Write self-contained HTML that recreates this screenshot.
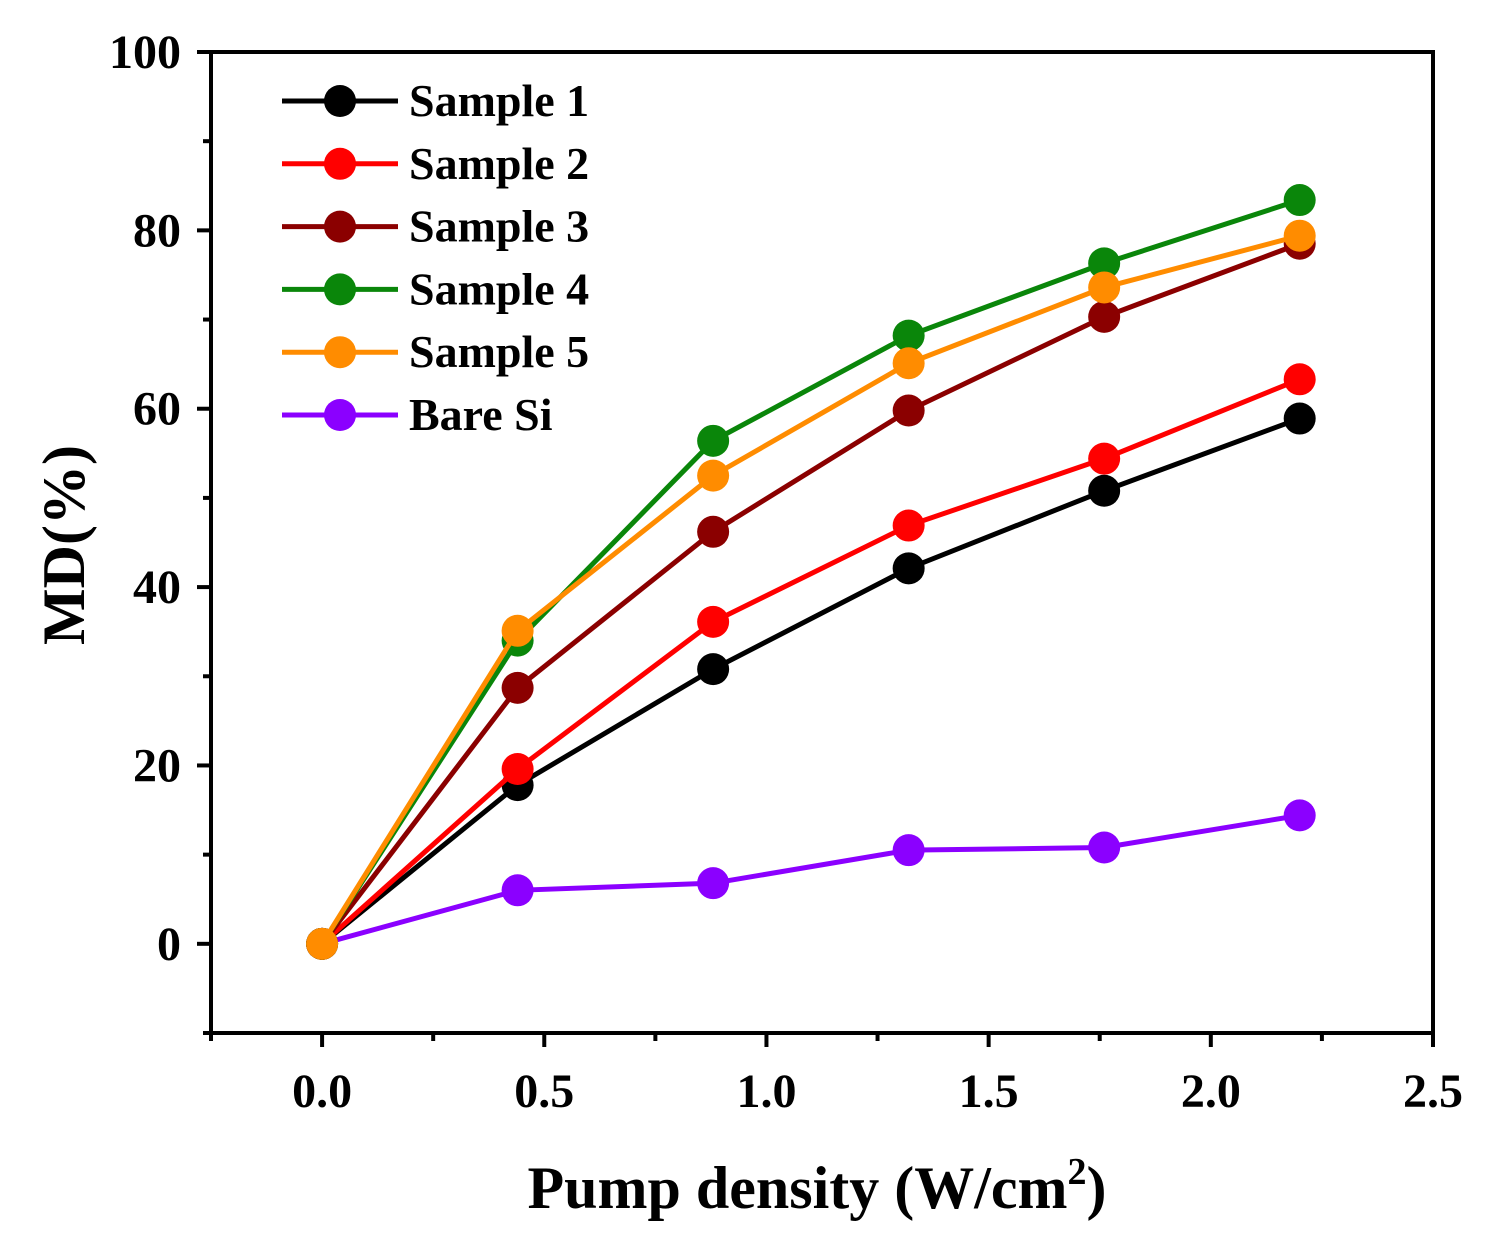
<!DOCTYPE html>
<html><head><meta charset="utf-8"><style>
html,body{margin:0;padding:0;background:#fff;}
svg{display:block;font-family:"Liberation Serif",serif;font-weight:bold;}
</style></head><body>
<svg id="chart" width="1492" height="1247" viewBox="0 0 1492 1247" xmlns="http://www.w3.org/2000/svg"></svg>
<script>
const xValues = [0, 0.44, 0.88, 1.32, 1.76, 2.2];
const seriesNames = ["Sample 1","Sample 2","Sample 3","Sample 4","Sample 5","Bare Si"];
const sample1 = [0, 17.8, 30.8, 42.1, 50.8, 58.9];
const sample2 = [0, 19.6, 36.1, 46.9, 54.4, 63.3];
const sample3 = [0, 28.7, 46.2, 59.8, 70.3, 78.5];
const sample4 = [0, 34.0, 56.4, 68.2, 76.3, 83.4];
const sample5 = [0, 35.1, 52.5, 65.1, 73.6, 79.4];
const bareSi = [0, 6.0, 6.8, 10.5, 10.8, 14.4];
const xTickLabels = ["0.0","0.5","1.0","1.5","2.0","2.5"];
const yTickLabels = ["0","20","40","60","80","100"];

const svg = document.getElementById('chart');
const NS = "http://www.w3.org/2000/svg";
const L=211,R=1433,T=52,B=1033;
const xMin=-0.25,xMax=2.5,yMin=-10,yMax=100;
const xs = v => L + (v-xMin)/(xMax-xMin)*(R-L);
const ys = v => B - (v-yMin)/(yMax-yMin)*(B-T);
function el(tag, attrs, parent){const e=document.createElementNS(NS,tag);for(const k in attrs)e.setAttribute(k,attrs[k]);(parent||svg).appendChild(e);return e;}

for(let v=-10; v<=100; v+=10){
  const major = v%20===0;
  const t = el('line',{x1:L,x2:L-(major?14:8),y1:ys(v),y2:ys(v),stroke:'#000','stroke-width':4});
  
  
}
yTickLabels.forEach(s=>{
  const t = el('text',{x:L-30,y:ys(+s)+16,'text-anchor':'end','font-size':48});
  t.textContent=s;
  
  
});
for(let i=-1;i<=10;i++){
  const v=i*0.25; const major = i%2===0;
  const t = el('line',{x1:xs(v),x2:xs(v),y1:B,y2:B+(major?14:8),stroke:'#000','stroke-width':4});
  
  
}
xTickLabels.forEach(s=>{
  const t = el('text',{x:xs(+s),y:B+74,'text-anchor':'middle','font-size':48});
  t.textContent=s;
  
  
});
const frame = el('rect',{x:L,y:T,width:R-L,height:B-T,fill:'none',stroke:'#000','stroke-width':4});



const xt = el('text',{x:817,y:1208,'text-anchor':'middle','font-size':60});
xt.innerHTML='Pump density (W/cm<tspan dy="-24" font-size="38">2</tspan><tspan dy="24">)</tspan>';


const yt = el('text',{x:0,y:0,'text-anchor':'middle','font-size':60,transform:'translate(84,545) rotate(-90)'});
yt.textContent='MD(%)';



const allSeries=[sample1,sample2,sample3,sample4,sample5,bareSi];
const colors=['#000000','#ff0000','#8b0000','#0a860a','#ff8c00','#8b00ff'];
const order=[5,0,1,2,3,4];
order.forEach(i=>{
  const d=allSeries[i];
  const g=el('g',{});
  
  
  const pl=el('polyline',{points:d.map((v,j)=>xs(xValues[j])+','+ys(v)).join(' '),fill:'none',stroke:colors[i],'stroke-width':5},g);
  
  
  d.forEach((v,j)=>{
    const c=el('circle',{cx:xs(xValues[j]),cy:ys(v),r:16,fill:colors[i]},g);
    
    
  });
});

const lg=el('g',{});


seriesNames.forEach((n,i)=>{
  const y=101+i*62.8;
  const e=el('g',{},lg);
  
  
  el('line',{x1:282,x2:398,y1:y,y2:y,stroke:colors[i],'stroke-width':5},e);
  el('circle',{cx:340,cy:y,r:16,fill:colors[i]},e);
  const t=el('text',{x:409,y:y+15,'font-size':46},e);
  t.textContent=n;
});
</script>
</body></html>
